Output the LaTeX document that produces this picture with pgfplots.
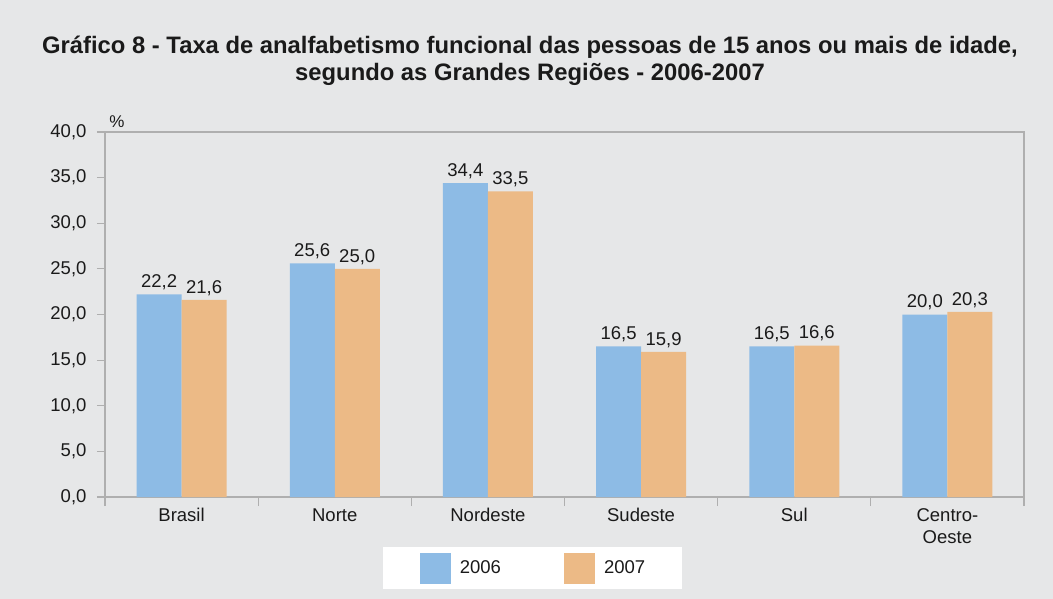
\documentclass[border=0pt]{standalone}
\usepackage{pgfplots}
\pgfplotsset{compat=1.18}
\usepackage{fontspec}
\setmainfont{Liberation Sans}
\definecolor{bg}{RGB}{230,231,232}
\definecolor{b06}{RGB}{141,187,229}
\definecolor{o07}{RGB}{236,186,134}
\definecolor{axc}{RGB}{175,175,175}
\definecolor{tx}{RGB}{26,26,26}
\pgfplotsset{sq/.style={legend image code/.code={\fill[##1] (0pt,-15.5pt) rectangle (31pt,15.5pt);}}}
\begin{document}
\begin{tikzpicture}
\fill[bg] (0,0) rectangle (1053pt,-599pt);
\useasboundingbox (0,0) rectangle (1053pt,-599pt);
\node[font=\fontsize{23.8}{26}\selectfont\bfseries, text=tx] at (530pt,-47pt) {Gráfico 8 - Taxa de analfabetismo funcional das pessoas de 15 anos ou mais de idade,};
\node[font=\fontsize{23.8}{26}\selectfont\bfseries, text=tx] at (530pt,-74pt) {segundo as Grandes Regiões - 2006-2007};
\node[font=\fontsize{17}{20}\selectfont, text=tx] at (117pt,-122pt) {\%};
\begin{axis}[
  at={(105pt,-497pt)}, anchor=south west,
  scale only axis, width=919pt, height=365pt,
  ybar=0pt, bar width=45pt,
  xmin=-0.5, xmax=5.5, ymin=0, ymax=40,
  ytick={0,5,...,40},
  xtick={0,...,5},
  xticklabels={Brasil,Norte,Nordeste,Sudeste,Sul,{Centro-\\Oeste}},
  minor xtick={-0.5,0.5,...,5.5},
  major x tick style={draw=none},
  tick align=outside, xtick pos=bottom, ytick pos=left,
  major tick length=8pt, minor tick length=9pt,
  axis line style={axc, line width=1.2pt},
  every tick/.style={axc, line width=1.2pt},
  minor tick style={axc, line width=1.2pt},
  major tick style={axc, line width=1.2pt},
  tick label style={font=\fontsize{18.5}{22}\selectfont, text=tx},
  xticklabel style={align=center},
  yticklabel style={xshift=-7pt},
  /pgf/number format/assume math mode=true,
  yticklabel={\pgfmathprintnumber[fixed,fixed zerofill,precision=1,use comma]{\tick}},
  nodes near coords={\pgfmathprintnumber[fixed,fixed zerofill,precision=1,use comma]{\pgfplotspointmeta}},
  nodes near coords style={font=\fontsize{18.5}{20}\selectfont, text=tx, inner sep=4pt},
  legend columns=2,
  legend style={at={(0.4652,-0.137)}, anchor=north, draw=none, fill=white,
    font=\fontsize{18.5}{20}\selectfont, text=tx,
    inner xsep=36.5pt, inner ysep=5.5pt,
    nodes={inner sep=0pt},
    column sep=9pt,
    /tikz/every even column/.append style={column sep=63pt}},
]
\addplot[fill=b06, draw=none, sq] coordinates {(0,22.2) (1,25.6) (2,34.4) (3,16.5) (4,16.5) (5,20.0)};
\addplot[fill=o07, draw=none, sq] coordinates {(0,21.6) (1,25.0) (2,33.5) (3,15.9) (4,16.6) (5,20.3)};
\legend{2006,2007}
\end{axis}
\end{tikzpicture}
\end{document}
